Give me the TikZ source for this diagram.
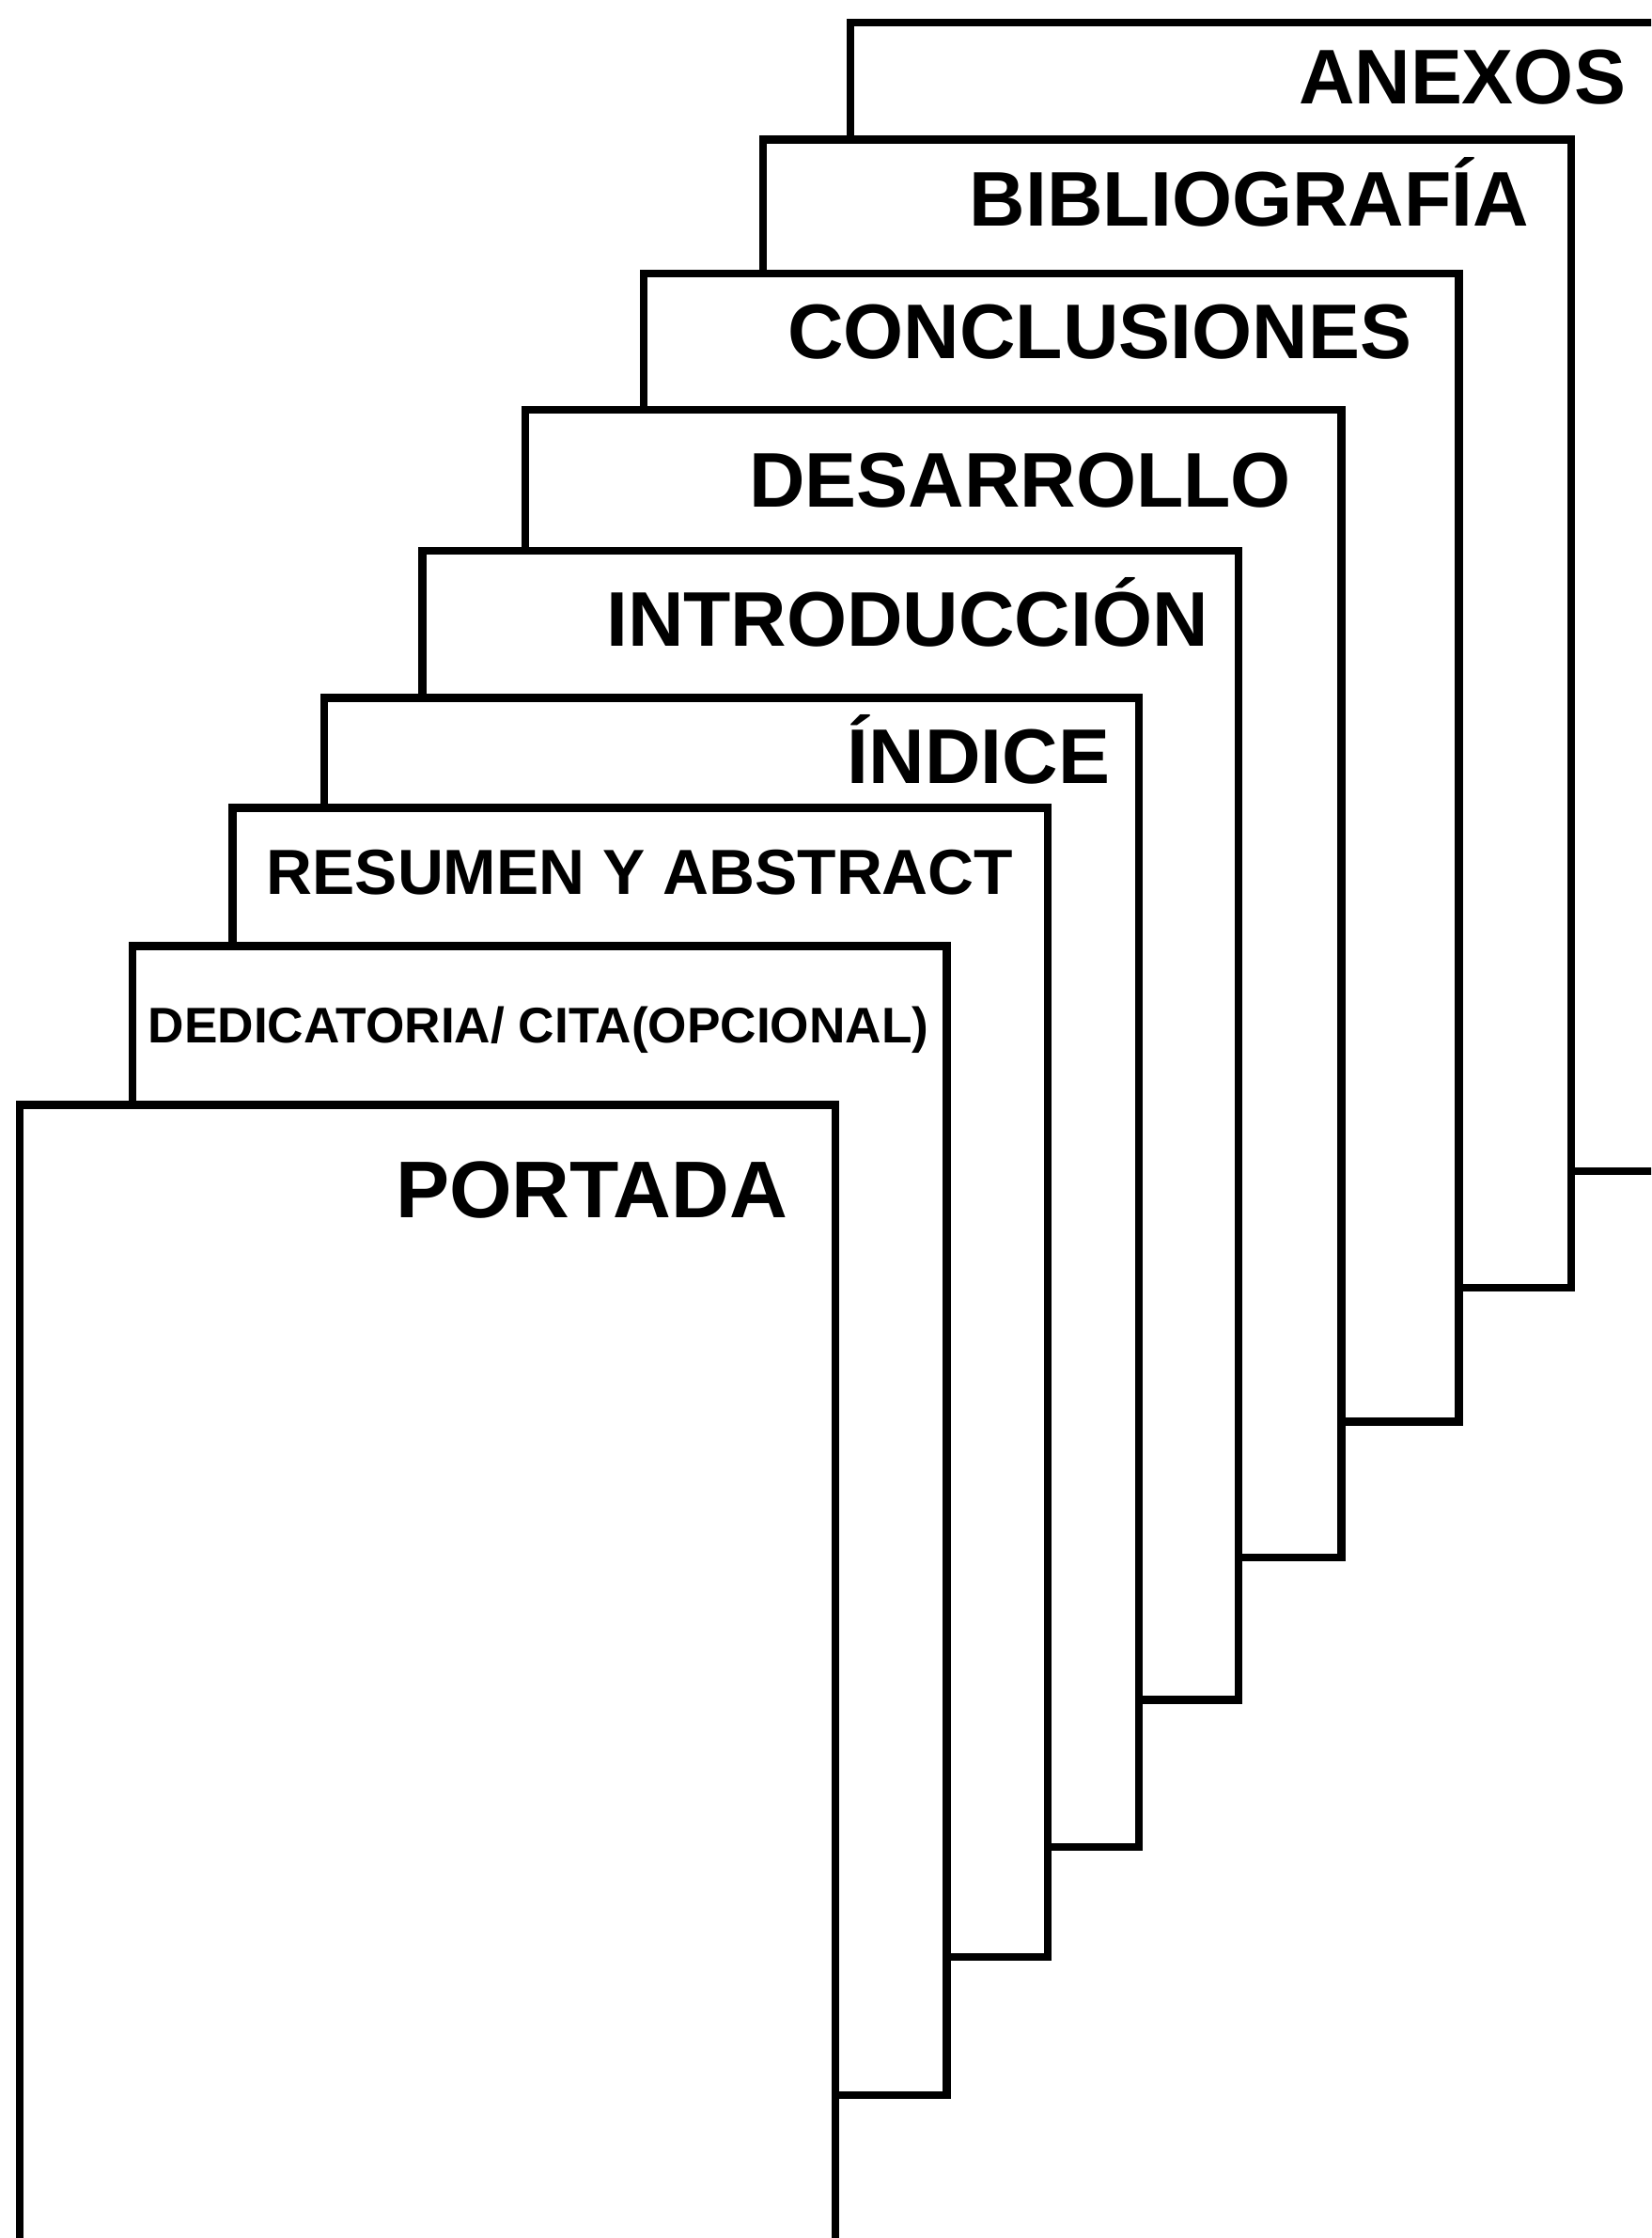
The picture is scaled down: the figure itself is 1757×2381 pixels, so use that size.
\documentclass[tikz,border=0pt]{standalone}
\usepackage{fontspec}
\setmainfont{Liberation Sans}
\begin{document}
\begin{tikzpicture}[x=0.5pt,y=-0.5pt,
  page/.style={draw=black,fill=white,line width=4.2pt,line join=miter},
  lbl/.style={inner sep=0pt,outer sep=0pt,font=\bfseries\fontsize{#1}{1.2\dimexpr#1pt\relax}\selectfont},
  lbl/.default=41.2]
\useasboundingbox (0,0) rectangle (1757,2381);
\clip (0,0) rectangle (1757,2381);
% ANEXOS
\path[page] (905,24) rectangle (1775,1246);
\node[lbl, anchor=base east] (anexos) at (1730,110.7) {ANEXOS};
% BIBLIOGRAFIA
\path[page] (812,148.5) rectangle (1672,1370);
\node[lbl, anchor=base east] (biblio) at (1627,240.7) {BIBLIOGRAFÍA};
% CONCLUSIONES
\path[page] (685,291) rectangle (1552.5,1512.5);
\node[lbl, anchor=base east] (concl) at (1502,381.2) {CONCLUSIONES};
% DESARROLLO
\path[page] (559,435.8) rectangle (1427.5,1657);
\node[lbl, anchor=base east] (desarr) at (1374,539.1) {DESARROLLO};
% INTRODUCCION
\path[page] (449.5,586.2) rectangle (1318,1808.5);
\node[lbl, anchor=base east] (intro) at (1286,687.9) {INTRODUCCIÓN};
% INDICE
\path[page] (344.7,742.6) rectangle (1211.8,1965);
\node[lbl, anchor=base east] (indice) at (1181,833.7) {ÍNDICE};
% RESUMEN
\path[page] (247.5,859.5) rectangle (1114.7,2082);
\node[lbl=33.9, anchor=base] (resumen) at (681,951.7) {RESUMEN Y ABSTRACT};
% DEDICATORIA
\path[page] (141,1006.5) rectangle (1007.5,2229);
\node[lbl=26.6, anchor=base] (dedic) at (573,1109.3) {DEDICATORIA/ CITA(OPCIONAL)};
% PORTADA
\path[page] (21,1175.5) rectangle (889,2400);
\node[lbl=42.8, anchor=base east] (portada) at (838,1295.7) {PORTADA};
\end{tikzpicture}
\end{document}
